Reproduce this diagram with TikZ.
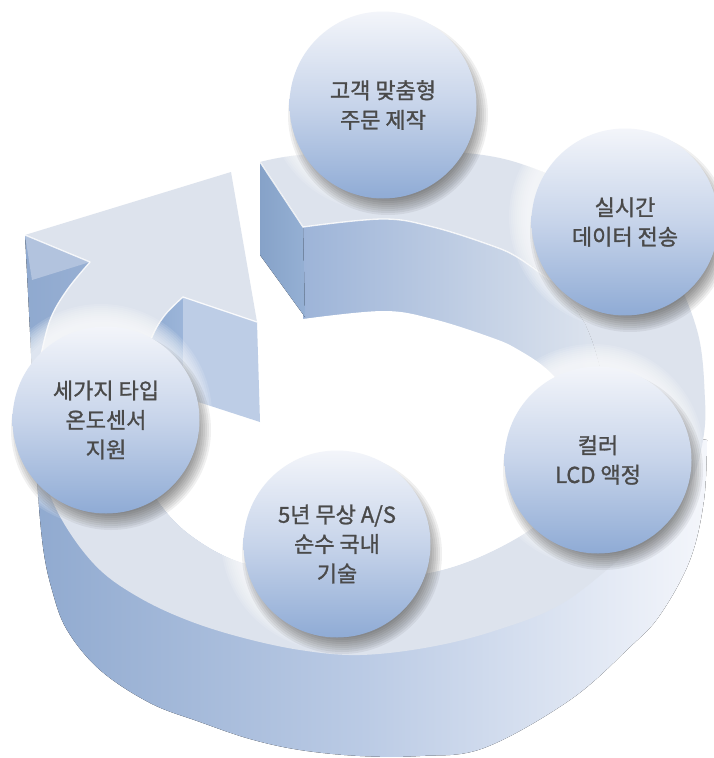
\documentclass[tikz,border=0pt]{standalone}
\usepackage{fontspec}
\newfontfamily\krfont[FakeBold=1.2]{Noto Sans CJK KR}
\usetikzlibrary{calc}
\definecolor{topf}{HTML}{DDE3ED}
\definecolor{sideL}{HTML}{8FA9CF}
\definecolor{sideM}{HTML}{BBCBE5}
\definecolor{sideR}{HTML}{F4F6FB}
\definecolor{wallL}{HTML}{9DB4D8}
\definecolor{wallR}{HTML}{E0E6EF}
\definecolor{tailL}{HTML}{86A2C8}
\definecolor{tailR}{HTML}{95B0D4}
\definecolor{barbL}{HTML}{B2C3DE}
\definecolor{barbR}{HTML}{BDCDE6}
\definecolor{shaftL}{HTML}{8AA7CE}
\definecolor{shaftR}{HTML}{9CB5D9}
\definecolor{ctop}{HTML}{F3F5FA}
\definecolor{cmid}{HTML}{C7D4EA}
\definecolor{cbot}{HTML}{8FABD5}
\definecolor{txt}{HTML}{4A4A4A}
\begin{document}
\begin{tikzpicture}[x=1pt,y=-1pt,
  bubble/.style={circle, minimum size=187pt, inner sep=0pt, top color=ctop, bottom color=cbot, middle color=cmid, text=txt, align=center, font=\krfont\fontsize{22}{29.5}\selectfont},
  hl/.style={draw=white, line width=1.3pt, opacity=.85, line cap=round},
]
\useasboundingbox (0,0) rectangle (713,758);
\fill[white] (0,0) rectangle (713,758);

\coordinate (c1) at (383,105);
\coordinate (c2) at (625,222);
\coordinate (c3) at (106,420);
\coordinate (c4) at (337,544);
\coordinate (c5) at (598,460);

% outer side face (silhouette)
\fill[left color=sideL, right color=sideR, middle color=sideM]
  plot[smooth, tension=.6] coordinates {(25,235) (30,332) (34,420) (37,480) (43,547) (52,590) (67,630) (100,670) (150,703) (200,722) (250,739) (300,750) (360,756) (420,756) (484,748) (570,700) (630,647) (660,615) (690,560) (704,500) (707,440)}
  -- (600,420) -- (150,420) -- (100,300) -- (90,262) -- cycle;

% hole
\fill[white] plot[smooth, tension=.6] coordinates {(183,297) (165,315) (152,337) (140,380) (138,430) (145,470) (157,500) (190,535) (242,563) (313,575) (380,578) (430,573) (480,557) (533,528) (575,490) (598,445) (605,400) (600,367) (583,320) (550,280) (517,257) (490,245) (433,227) (383,219) (303,227)} -- cycle;

% inner wall
\begin{scope}
  \clip plot[smooth, tension=.6] coordinates {(183,297) (165,315) (152,337) (140,380) (138,430) (145,470) (157,500) (190,535) (242,563) (313,575) (380,578) (430,573) (480,557) (533,528) (575,490) (598,445) (605,400) (600,367) (583,320) (550,280) (517,257) (490,245) (433,227) (383,219) (303,227)} -- cycle;
  \clip (303,0) rectangle (713,758);
  \fill[left color=wallL, right color=wallR] (303,200) rectangle (612,500);
  \fill[white, shift={(0,92)}] plot[smooth, tension=.6] coordinates {(183,297) (165,315) (152,337) (140,380) (138,430) (145,470) (157,500) (190,535) (242,563) (313,575) (380,578) (430,573) (480,557) (533,528) (575,490) (598,445) (605,400) (600,367) (583,320) (550,280) (517,257) (490,245) (433,227) (383,219) (303,227)} -- cycle;
\end{scope}

% shaft inner wall and right barb back face
\fill[left color=shaftL, right color=shaftR] (183,297) -- plot[smooth, tension=.6] coordinates {(183,297) (165,315) (152,337) (142,370) (138,410)} -- (138,500) -- (145,460) -- (152,437) -- (165,415) -- (183,397) -- cycle;
\fill[barbR] (183,297) -- (257,322) -- (260,422) -- (183,397) -- cycle;

% top face of ring + arrow head
\fill[topf] (260,162) -- plot[smooth, tension=.6] coordinates {(260,162) (300,155) (393,150) (483,155) (543,172) (610,205) (665,260) (697,330) (705,400) (703,440) (692,480) (668,515) (630,550) (563,603) (497,630) (430,647) (360,655) (300,650) (240,637) (187,620) (140,598) (100,570) (68,530) (47,487) (37,440) (36,400) (40,360) (50,320) (67,290) (90,262)}
  -- (25,235) -- (231,172) -- (257,322) -- (183,297)
  -- plot[smooth, tension=.6] coordinates {(183,297) (165,315) (152,337) (140,380) (138,430) (145,470) (157,500) (190,535) (242,563) (313,575) (380,578) (430,573) (480,557) (533,528) (575,490) (598,445) (605,400) (600,367) (583,320) (550,280) (517,257) (490,245) (433,227) (383,219) (303,227)} -- cycle;

% tail end face
\fill[left color=tailL, right color=tailR] (260,162) -- (303,227) -- (305,317) -- (260,255) -- cycle;
% left barb lighter face
\fill[barbL] (25,235) -- (90,262) -- (32,280) -- cycle;

% highlights
\draw[hl] (25,235) -- (90,262);
\draw[hl] (183,297) -- (257,322);
\draw[hl] (260,162) -- (303,227);
\draw[hl] plot[smooth, tension=.6] coordinates {(303,227) (383,219) (433,227) (490,245) (517,257) (550,280)};
\draw[hl] plot[smooth, tension=.6] coordinates {(90,262) (67,290) (50,320) (40,360)};
\draw[hl] plot[smooth, tension=.6] coordinates {(183,297) (165,315) (152,337) (142,370)};

% glows and shadows
\foreach \c in {c1,c2,c3,c4,c5}{
  \foreach \k [evaluate=\k as \rr using 93+2*\k] in {0,...,9}
    \fill[white, opacity=.12] ($(\c)+(-5,-5)$) circle[radius=\rr pt];
  \foreach \k [evaluate=\k as \rr using 80+2*\k] in {0,...,10}
    \fill[black, opacity=.06] ($(\c)+(5,10)$) circle[radius=\rr pt];
}

% bubbles
\node[bubble] (n1) at (c1) {고객 맞춤형\\주문 제작};
\node[bubble] (n2) at (c2) {실시간\\데이터 전송};
\node[bubble] (n3) at (c3) {세가지 타입\\온도센서\\지원};
\node[bubble] (n4) at (c4) {5년 무상 A/S\\순수 국내\\기술};
\node[bubble] (n5) at (c5) {컬러\\LCD 액정};
\end{tikzpicture}
\end{document}
